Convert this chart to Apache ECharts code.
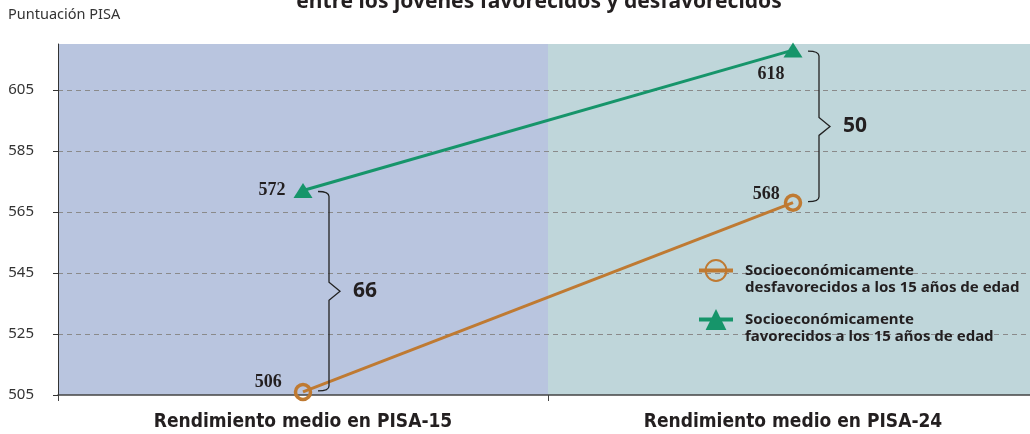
<!DOCTYPE html>
<html><head><meta charset="utf-8">
<script src="https://cdn.jsdelivr.net/npm/echarts@6/dist/echarts.min.js"></script>
<style>html,body{margin:0;padding:0;background:#fff;overflow:hidden}#c{width:1038px;height:434px}</style>
</head><body><div id="c"></div>
<script>
const categories = ['Rendimiento medio en PISA-15', 'Rendimiento medio en PISA-24'];
const desfavorecidos = [506, 568];
const favorecidos = [572, 618];
const seriesNames = ['Socioeconómicamente\ndesfavorecidos a los 15 años de edad', 'Socioeconómicamente\nfavorecidos a los 15 años de edad'];
const yMin = 505, yMax = 620, yStep = 20;
const titleText = 'entre los jóvenes favorecidos y desfavorecidos';
const yAxisName = 'Puntuación PISA';

const ORANGE = '#BF7A32', GREEN = '#16956A', TXT = '#231f20';
const bg = ['#B9C5DF', '#BFD6DA'];

// label placement (style only)
const orangeLabelCfg = [{position: 'left', distance: 12, offset: [0, -10]}, {position: 'left', distance: 4, offset: [0, -8]}];
const greenLabelCfg = [{position: 'left', distance: 8, offset: [0, 0]}, {position: 'bottom', distance: 8, offset: [-22, 0]}];
const labelFont = {fontFamily: "'Liberation Serif', 'DejaVu Serif', serif", fontWeight: 'bold', fontSize: 18, color: TXT};

function withLabels(vals, cfg) {
  return vals.map((v, i) => ({value: v, label: Object.assign({show: true}, labelFont, cfg[i])}));
}

const braceData = categories.map((c, i) => [i, desfavorecidos[i], favorecidos[i], favorecidos[i] - desfavorecidos[i]]);

const chart = echarts.init(document.getElementById('c'));
chart.setOption({
  animation: false,
  graphic: [
    {type: 'text', left: 8, top: 7, style: {text: yAxisName, font: "14.5px 'Noto Sans', sans-serif", fill: '#333'}},
    {type: 'text', x: 539, y: 13, style: {text: titleText, font: "bold 21px 'Noto Sans', sans-serif", fill: TXT, align: 'center', verticalAlign: 'bottom'}}
  ],
  grid: {left: 58, top: 44, bottom: 39, right: 0},
  legend: {
    orient: 'vertical', left: 697, top: 245, padding: 0, itemGap: -2,
    itemWidth: 34, itemHeight: 26, selectedMode: false,
    data: seriesNames,
    formatter: function (n) { return '\n' + n; },
    lineStyle: {width: 4},
    textStyle: {fontFamily: "'Noto Sans', sans-serif", fontWeight: 'bold', fontSize: 15, lineHeight: 17, color: TXT, padding: [0, 0, 0, 7]}
  },
  xAxis: {
    type: 'category', data: categories, z: 0,
    axisLine: {lineStyle: {color: '#444', width: 1.5}},
    axisTick: {show: true, length: 6, lineStyle: {color: '#444'}},
    axisLabel: {margin: 18, fontFamily: "'Liberation Sans Narrow', 'DejaVu Sans Condensed', sans-serif", fontWeight: 'bold', fontSize: 19, color: TXT},
    splitArea: {show: true, areaStyle: {color: bg, opacity: 1}},
    splitLine: {show: false}
  },
  yAxis: {
    type: 'value', min: yMin, max: yMax, interval: yStep, z: 1,
    axisLine: {show: true, lineStyle: {color: '#333', width: 1}},
    axisTick: {show: true, length: 5, lineStyle: {color: '#333'}},
    axisLabel: {margin: 24, showMaxLabel: false, fontFamily: "'Noto Sans', sans-serif", fontSize: 15, color: '#333'},
    splitLine: {show: true, showMinLine: false, showMaxLine: false, lineStyle: {color: '#8a8a8a', type: [5, 4], width: 1}}
  },
  series: [
    {
      name: seriesNames[0], type: 'line', data: withLabels(desfavorecidos, orangeLabelCfg),
      symbol: 'circle', symbolSize: 15,
      lineStyle: {color: ORANGE, width: 3},
      itemStyle: {color: 'rgba(0,0,0,0)', borderColor: ORANGE, borderWidth: 3.5},
      z: 3
    },
    {
      name: seriesNames[1], type: 'line', data: withLabels(favorecidos, greenLabelCfg),
      symbol: 'triangle', symbolSize: [19, 15],
      lineStyle: {color: GREEN, width: 3},
      itemStyle: {color: GREEN},
      z: 3
    },
    {
      type: 'custom', name: 'brace', data: braceData, encode: {x: 0, y: [1, 2]}, silent: true, z: 4,
      renderItem: function (params, api) {
        const top = api.coord([api.value(0), api.value(2)]);
        const bot = api.coord([api.value(0), api.value(1)]);
        const x0 = top[0] + 15, stem = top[0] + 26, tip = top[0] + 37, r = 5;
        const yt = top[1] + 1, yb = bot[1] - 1, ym = (yt + yb) / 2;
        const d = 'M' + x0 + ',' + yt + ' Q' + stem + ',' + yt + ' ' + stem + ',' + (yt + r) +
          ' L' + stem + ',' + (ym - 9) + ' L' + tip + ',' + ym + ' L' + stem + ',' + (ym + 9) +
          ' L' + stem + ',' + (yb - r) + ' Q' + stem + ',' + yb + ' ' + x0 + ',' + yb;
        return {
          type: 'group', children: [
            {type: 'path', shape: {pathData: d}, style: {stroke: '#222', fill: null, lineWidth: 1.3}},
            {type: 'text', x: tip + 13, y: ym, style: {text: String(api.value(3)), font: "bold 21px 'Noto Sans', sans-serif", fill: TXT, verticalAlign: 'middle', align: 'left'}}
          ]
        };
      }
    }
  ]
});
</script></body></html>
